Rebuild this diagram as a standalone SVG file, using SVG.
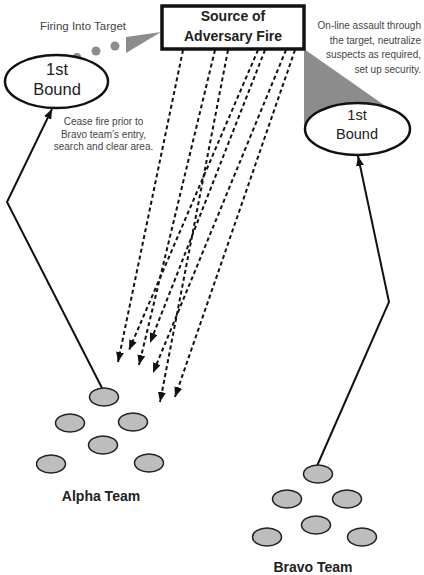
<svg xmlns="http://www.w3.org/2000/svg" width="424" height="575" viewBox="0 0 424 575">
  <style>
    .note { font-family: "Liberation Sans", Arial, sans-serif; font-size: 10px; fill: #444; }
    .bound { font-family: "Liberation Sans", Arial, sans-serif; fill: #222; text-anchor: middle; }
    .team { font-family: "Liberation Sans", Arial, sans-serif; font-size: 14px; font-weight: bold; fill: #222; text-anchor: middle; }
    .member { fill: #bdbdbd; stroke: #222; stroke-width: 1.5; }
    .boundShape { fill: #fff; stroke: #111; stroke-width: 2.5; }
    .fire { fill: none; stroke: #111; stroke-width: 2; stroke-dasharray: 4 3; marker-end: url(#head); }
    .move { fill: none; stroke: #111; stroke-width: 2; marker-end: url(#head); }
    .shade { fill: #8c8c8c; }
  </style>
  <defs>
    <marker id="head" viewBox="0 0 10 8" refX="10" refY="4" markerWidth="10" markerHeight="8" markerUnits="userSpaceOnUse" orient="auto">
      <path d="M0,0 L10,4 L0,8 Z" fill="#111"/>
    </marker>
  </defs>

  <rect width="424" height="575" fill="#fff"/>

  <!-- support-by-fire wedge and dots -->
  <g id="firing-into-target">
    <polygon class="shade" points="126,37 161,32 126,53"/>
    <circle class="shade" cx="77" cy="57" r="4"/>
    <circle class="shade" cx="96" cy="51" r="4.5"/>
    <circle class="shade" cx="115" cy="46" r="4.5"/>
    <text class="note" x="83" y="30" font-size="11.5" text-anchor="middle" style="font-size:11.5px">Firing Into Target</text>
  </g>

  <!-- assault wedge toward the right bound -->
  <g id="assault-wedge">
    <polygon class="shade" points="304,49 394,112 357,129 304,127"/>
  </g>

  <!-- target -->
  <g id="target">
    <rect x="162" y="6" width="142" height="43" fill="#fff" stroke="#111" stroke-width="3.5"/>
    <text class="team" x="233" y="21">Source of</text>
    <text class="team" x="233" y="41">Adversary Fire</text>
  </g>

  <!-- connectors -->
  <g id="connectors">
    <line class="fire" x1="183" y1="50" x2="118" y2="362"/>
    <line class="fire" x1="215" y1="50" x2="139" y2="365"/>
    <line class="fire" x1="228" y1="50" x2="160" y2="402"/>
    <line class="fire" x1="258" y1="50" x2="129" y2="350"/>
    <line class="fire" x1="265" y1="50" x2="150" y2="343"/>
    <line class="fire" x1="286" y1="50" x2="153" y2="373"/>
    <line class="fire" x1="295" y1="50" x2="175" y2="397"/>
    <polyline class="move" points="102,388 7,202 52,109"/>
    <polyline class="move" points="317,466 389,302 358,156"/>
  </g>

  <!-- left bound -->
  <g id="alpha-bound">
    <ellipse class="boundShape" cx="56.5" cy="81.5" rx="51.5" ry="26.5"/>
    <text class="bound" x="57" y="75" font-size="16.5">1st</text>
    <text class="bound" x="57" y="95" font-size="16.5">Bound</text>
  </g>

  <!-- right bound -->
  <g id="bravo-bound">
    <ellipse class="boundShape" cx="357.5" cy="129" rx="52.5" ry="26"/>
    <text class="bound" x="357" y="120" font-size="14.5">1st</text>
    <text class="bound" x="357" y="138.5" font-size="14.5">Bound</text>
  </g>

  <!-- notes -->
  <g id="alpha-note">
    <text class="note" x="103.5" y="125" text-anchor="middle">Cease fire prior to</text>
    <text class="note" x="103.5" y="137.5" text-anchor="middle">Bravo team’s entry,</text>
    <text class="note" x="103.5" y="150" text-anchor="middle">search and clear area.</text>
  </g>
  <g id="bravo-note">
    <text class="note" x="421" y="29" text-anchor="end">On-line assault through</text>
    <text class="note" x="421" y="43.5" text-anchor="end">the target, neutralize</text>
    <text class="note" x="421" y="58" text-anchor="end">suspects as required,</text>
    <text class="note" x="421" y="72.5" text-anchor="end">set up security.</text>
  </g>

  <!-- Alpha team -->
  <g id="alpha-team">
    <ellipse class="member" cx="104" cy="397" rx="14.5" ry="9"/>
    <ellipse class="member" cx="70" cy="423" rx="14.5" ry="9"/>
    <ellipse class="member" cx="133" cy="422" rx="14.5" ry="9"/>
    <ellipse class="member" cx="103" cy="445" rx="14.5" ry="9"/>
    <ellipse class="member" cx="51" cy="464" rx="14.5" ry="9"/>
    <ellipse class="member" cx="149" cy="463" rx="14.5" ry="9"/>
    <text class="team" x="101" y="501">Alpha Team</text>
  </g>

  <!-- Bravo team -->
  <g id="bravo-team">
    <ellipse class="member" cx="318" cy="474" rx="14.5" ry="9"/>
    <ellipse class="member" cx="287" cy="499" rx="14.5" ry="9"/>
    <ellipse class="member" cx="347" cy="499" rx="14.5" ry="9"/>
    <ellipse class="member" cx="316" cy="525" rx="14.5" ry="9"/>
    <ellipse class="member" cx="267" cy="537" rx="14.5" ry="9"/>
    <ellipse class="member" cx="362" cy="537" rx="14.5" ry="9"/>
    <text class="team" x="313" y="572">Bravo Team</text>
  </g>
</svg>
